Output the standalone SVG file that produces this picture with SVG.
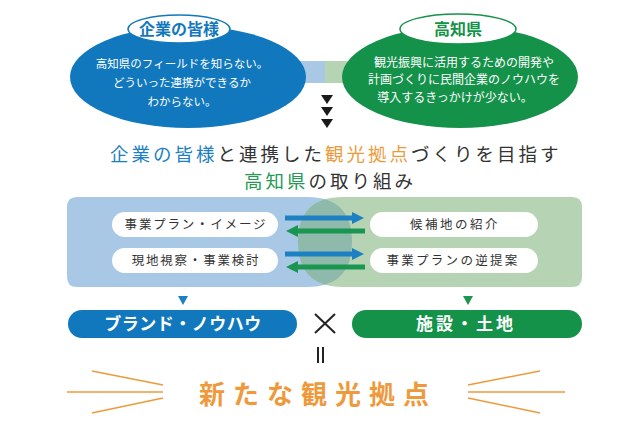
<svg xmlns="http://www.w3.org/2000/svg" width="640" height="421" viewBox="0 0 640 421">
<defs>
<style>
text{font-family:"Noto Sans CJK JP","Noto Sans",sans-serif;}
.body{font-size:11.5px;fill:#ffffff;text-anchor:middle;}
.pilltxt{font-size:12.5px;fill:#333333;text-anchor:middle;letter-spacing:1.8px;}
.big{font-size:17px;font-weight:bold;fill:#ffffff;text-anchor:middle;}
.ttl{font-size:18.5px;fill:#333333;letter-spacing:3px;}
.blue{fill:#1c80c2;} .green{fill:#259a55;} .orange{fill:#ee9a3c;}
.deco{stroke:#ee9a3c;stroke-width:1.5;fill:none;}
.inner{fill:#ffffff;}
.ab{stroke:#1c80c2;stroke-width:5;fill:none;}
.ag{stroke:#1a9650;stroke-width:5;fill:none;}
</style>
<clipPath id="gclip"><path d="M343,197 H572 Q582,197 582,207 V277 Q582,287 572,287 H343 Q298,287 298,242 Q298,197 343,197 Z"/></clipPath>
</defs>
<rect width="640" height="421" fill="#ffffff"/>

<g id="connectors">
<rect x="300" y="61" width="25" height="22" fill="#a9c8e6"/>
<rect x="325" y="61" width="22" height="22" fill="#b6d3b4"/>
<polygon points="321,95 333,95 327,104" fill="#1a1a1a"/>
<polygon points="321,107 333,107 327,116" fill="#1a1a1a"/>
<polygon points="321,119 333,119 327,128" fill="#1a1a1a"/>
</g>

<g id="node-kigyo">
<ellipse cx="188" cy="77" rx="118" ry="51" fill="#1178be"/>
<ellipse cx="179" cy="29" rx="51" ry="14" fill="#ffffff" stroke="#1178be" stroke-width="1.5"/>
<text x="179" y="35" font-size="16" font-weight="bold" fill="#1178be" text-anchor="middle">企業の皆様</text>
<text class="body" x="182" y="68">高知県のフィールドを知らない。</text>
<text class="body" x="182" y="87">どういった連携ができるか</text>
<text class="body" x="182" y="106">わからない。</text>
</g>

<g id="node-kochi">
<ellipse cx="460" cy="77" rx="118" ry="51" fill="#15924a"/>
<ellipse cx="458" cy="29" rx="58" ry="15" fill="#ffffff" stroke="#15924a" stroke-width="1.5"/>
<text x="458" y="35" font-size="16" font-weight="bold" fill="#15924a" text-anchor="middle">高知県</text>
<text class="body" x="464" y="67" style="font-size:12px">観光振興に活用するための開発や</text>
<text class="body" x="464" y="84" style="font-size:12px">計画づくりに民間企業のノウハウを</text>
<text class="body" x="455" y="102" style="font-size:12px">導入するきっかけが少ない。</text>
</g>

<g id="title">
<text class="ttl blue" x="110" y="160.5">企業の皆様</text>
<text class="ttl" x="217.5" y="160.5">と連携した</text>
<text class="ttl orange" x="325" y="160.5">観光拠点</text>
<text class="ttl" x="411" y="160.5">づくりを目指す</text>
<text class="ttl green" x="244" y="187.5">高知県</text>
<text class="ttl" x="308.5" y="187.5">の取り組み</text>
</g>

<g id="panel-blue">
<path d="M77,197 H307 Q352,197 352,242 Q352,287 307,287 H77 Q67,287 67,277 V207 Q67,197 77,197 Z" fill="#a9c8e6"/>
</g>
<g id="panel-green">
<path d="M343,197 H572 Q582,197 582,207 V277 Q582,287 572,287 H343 Q298,287 298,242 Q298,197 343,197 Z" fill="#b6d3b4"/>
<path clip-path="url(#gclip)" d="M77,197 H307 Q352,197 352,242 Q352,287 307,287 H77 Q67,287 67,277 V207 Q67,197 77,197 Z" fill="#8fb9aa"/>
</g>

<g id="node-plan">
<rect class="inner" x="112" y="212" width="166" height="25" rx="12.5"/>
<text class="pilltxt" x="196" y="229">事業プラン・イメージ</text>
</g>
<g id="node-genchi">
<rect class="inner" x="112" y="248" width="166" height="25" rx="12.5"/>
<text class="pilltxt" x="196" y="265">現地視察・事業検討</text>
</g>
<g id="node-kouho">
<rect class="inner" x="370" y="212" width="168" height="25" rx="12.5"/>
<text class="pilltxt" x="455" y="229" style="letter-spacing:2.5px">候補地の紹介</text>
</g>
<g id="node-gyaku">
<rect class="inner" x="370" y="248" width="168" height="25" rx="12.5"/>
<text class="pilltxt" x="453" y="265" style="letter-spacing:2.3px">事業プランの逆提案</text>
</g>

<g id="arrows">
<line class="ab" x1="285" y1="218" x2="354" y2="218"/>
<polygon points="352,212 364,218 352,224" fill="#1c80c2"/>
<line class="ag" x1="365" y1="231" x2="296" y2="231"/>
<polygon points="298,225 286,231 298,237" fill="#1a9650"/>
<line class="ab" x1="285" y1="254" x2="354" y2="254"/>
<polygon points="352,248 364,254 352,260" fill="#1c80c2"/>
<line class="ag" x1="365" y1="267" x2="296" y2="267"/>
<polygon points="298,261 286,267 298,273" fill="#1a9650"/>
<polygon points="178,296 188,296 183,305" fill="#1c80c2"/>
<polygon points="463,296 473,296 468,305" fill="#1a9650"/>
</g>

<g id="node-brand">
<rect x="68" y="310" width="229" height="28" rx="14" fill="#1178be"/>
<text class="big" x="183" y="330" style="letter-spacing:0.5px">ブランド・ノウハウ</text>
</g>
<g id="node-shisetsu">
<rect x="352" y="310" width="230" height="28" rx="14" fill="#15924a"/>
<text class="big" x="466" y="330" style="letter-spacing:3px">施設・土地</text>
</g>

<g id="operators">
<line x1="315" y1="314" x2="335" y2="333" stroke="#222" stroke-width="2"/>
<line x1="335" y1="314" x2="315" y2="333" stroke="#222" stroke-width="2"/>
<line x1="318" y1="347" x2="318" y2="363" stroke="#222" stroke-width="2"/>
<line x1="323" y1="347" x2="323" y2="363" stroke="#222" stroke-width="2"/>
</g>

<g id="result">
<line class="deco" x1="92" y1="371" x2="163" y2="385"/>
<line class="deco" x1="67" y1="392" x2="163" y2="392"/>
<line class="deco" x1="92" y1="413" x2="163" y2="398"/>
<line class="deco" x1="540" y1="371" x2="468" y2="385"/>
<line class="deco" x1="565" y1="392" x2="468" y2="392"/>
<line class="deco" x1="540" y1="413" x2="468" y2="398"/>
<text x="318" y="404" font-size="26" font-weight="bold" fill="#ee9a3c" text-anchor="middle" letter-spacing="8">新たな観光拠点</text>
</g>
</svg>
